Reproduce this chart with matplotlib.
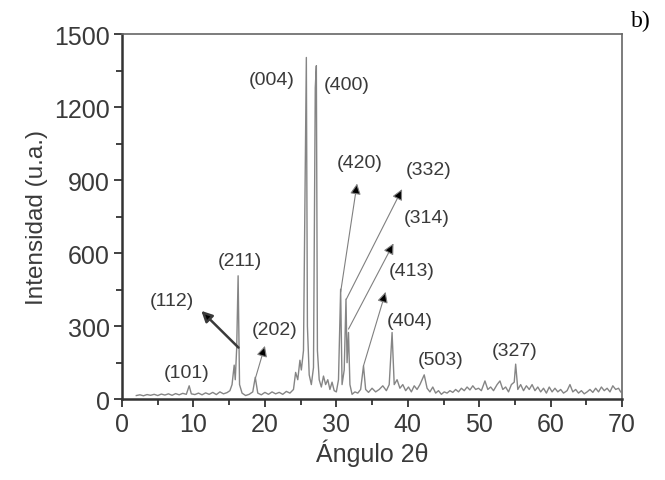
import matplotlib
matplotlib.use("Agg")
import matplotlib.pyplot as plt
from matplotlib.ticker import MultipleLocator

plt.rcParams['font.family'] = ['Liberation Sans', 'DejaVu Sans']

# difractograma (2theta, intensidad)
two_theta = [2.0, 2.5, 3.0, 3.5, 4.0, 4.5, 5.0, 5.5, 6.0, 6.5, 7.0, 7.5, 8.0, 8.5, 9.0, 9.4, 9.7,
             10.2, 10.7, 11.2, 11.7, 12.2, 12.7, 13.2, 13.7, 14.2, 14.7, 15.1, 15.4, 15.7, 15.85,
             16.05, 16.25, 16.45, 16.8, 17.3, 17.8, 18.3, 18.65, 19.0, 19.5, 20.0, 20.5, 21.0, 21.5,
             22.0, 22.5, 23.0, 23.5, 24.0, 24.3, 24.6, 24.9, 25.1, 25.4, 25.65, 25.8, 25.95, 26.2,
             26.5, 26.8, 27.05, 27.2, 27.35, 27.6, 27.9, 28.2, 28.5, 28.8, 29.1, 29.4, 29.7, 30.0,
             30.3, 30.6, 30.8, 31.1, 31.35, 31.5, 31.7, 31.9, 32.2, 32.6, 33.0, 33.4, 33.8, 34.1,
             34.5, 35.0, 35.5, 36.0, 36.5, 37.0, 37.4, 37.8, 38.1, 38.5, 38.9, 39.3, 39.7, 40.1,
             40.5, 40.9, 41.3, 41.7, 42.3, 42.7, 43.1, 43.5, 43.9, 44.3, 44.7, 45.1, 45.5, 45.9,
             46.3, 46.7, 47.1, 47.5, 47.9, 48.3, 48.7, 49.1, 49.5, 49.9, 50.3, 50.8, 51.2, 51.6,
             52.0, 52.5, 52.9, 53.3, 53.7, 54.1, 54.5, 54.9, 55.1, 55.4, 55.8, 56.2, 56.6, 57.0,
             57.4, 57.8, 58.2, 58.6, 59.0, 59.4, 59.8, 60.2, 60.6, 61.0, 61.4, 61.8, 62.3, 62.7,
             63.1, 63.5, 63.9, 64.3, 64.7, 65.1, 65.5, 65.9, 66.3, 66.7, 67.1, 67.5, 67.9, 68.3,
             68.7, 69.1, 69.5, 69.8]
intensity = [15, 18, 14, 19, 16, 20, 15, 21, 17, 22, 16, 23, 18, 24, 20, 55, 22,
             19, 25, 18, 26, 20, 28, 19, 30, 22, 27, 35, 60, 140, 80,
             210, 507, 60, 25, 15, 20, 30, 90, 25, 18, 28, 20, 30, 22,
             28, 20, 32, 25, 40, 110, 80, 160, 120, 200, 960, 1404, 300, 100,
             60, 130, 1280, 1370, 200, 80, 50, 95, 60, 80, 40, 70, 35, 30,
             80, 452, 60, 120, 411, 150, 274, 60, 20, 30, 25, 40, 137, 40,
             28, 45, 30, 40, 55, 35, 60, 274, 60, 80, 45, 60, 35, 50,
             30, 55, 40, 60, 100, 45, 30, 50, 25, 35, 20, 30, 25, 35,
             28, 40, 30, 45, 35, 50, 38, 55, 40, 45, 35, 75, 40, 50,
             35, 60, 75, 40, 50, 30, 60, 70, 144, 40, 60, 35, 55, 40,
             60, 35, 50, 30, 45, 25, 50, 30, 45, 30, 40, 25, 35, 60,
             30, 40, 25, 35, 22, 30, 40, 28, 45, 30, 50, 35, 45, 30,
             55, 40, 45, 30]

# etiquetas de los planos (texto, x, y)
plane_labels = ['(101)', '(112)', '(211)', '(202)', '(004)', '(400)', '(420)',
                '(332)', '(314)', '(413)', '(404)', '(503)', '(327)']
label_x = [9.0, 7.0, 16.5, 21.4, 21.0, 31.4, 33.2, 42.9, 42.6, 40.6, 40.3, 44.6, 55.0]
label_y = [110, 404, 569, 288, 1315, 1295, 973, 945, 747, 527, 322, 164, 199]

# flechas: cola sobre el pico, punta junto a la etiqueta
arrow_names = ['(112)', '(202)', '(420)', '(332)', '(314)', '(413)']
arrow_tail = [(16.3, 212), (18.7, 89), (30.6, 440), (31.4, 411), (31.7, 288), (33.8, 137)]
arrow_head = [(11.1, 363), (20.0, 219), (32.9, 886), (39.2, 863), (38.0, 640), (36.9, 441)]

fig = plt.figure(figsize=(6.65, 4.81), dpi=100)
ax = fig.add_axes([0.1835, 0.168, 0.752, 0.759])

ax.plot(two_theta, intensity, color='#858585', lw=1.0)

for name, t, h in zip(arrow_names, arrow_tail, arrow_head):
    lw = 1.8 if name == '(112)' else 0.8
    ec = '#3a3a3a' if name == '(112)' else '#808080'
    ax.annotate('', xy=h, xytext=t,
                arrowprops=dict(arrowstyle='-|>', fc='black', ec=ec, lw=lw,
                                mutation_scale=16, shrinkA=0, shrinkB=0))

for txt, x, y in zip(plane_labels, label_x, label_y):
    ax.text(x, y, txt, fontsize=14, color='#3a3a3a', ha='center', va='center')

ax.set_xlim(0, 70)
ax.set_ylim(0, 1500)
ax.xaxis.set_major_locator(MultipleLocator(10))
ax.xaxis.set_minor_locator(MultipleLocator(5))
ax.yaxis.set_major_locator(MultipleLocator(300))
ax.yaxis.set_minor_locator(MultipleLocator(150))
ax.tick_params(which='both', direction='out', top=False, right=False,
               color='#333333', width=1.3, labelsize=18, labelcolor='#3a3a3a', pad=3)
ax.tick_params(which='major', length=6)
ax.tick_params(which='minor', length=4)

for side in ['left', 'bottom']:
    ax.spines[side].set_linewidth(1.8)
    ax.spines[side].set_color('#333333')
for side in ['top', 'right']:
    ax.spines[side].set_linewidth(1.2)
    ax.spines[side].set_color('#666666')

ax.set_xlabel('Ángulo 2θ', fontsize=18, color='#3a3a3a', labelpad=2)
ax.set_ylabel('Intensidad (u.a.)', fontsize=17.5, color='#3a3a3a', labelpad=4)

fig.text(0.964, 0.955, 'b)', fontsize=17, family='Liberation Serif', ha='center', va='center')

fig.savefig('out.png', dpi=100)
